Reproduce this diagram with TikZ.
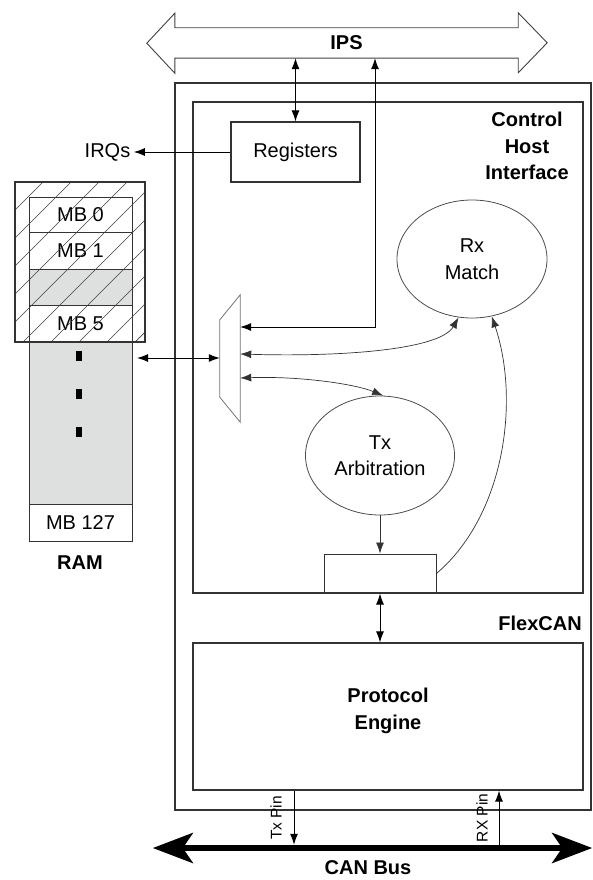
\documentclass[tikz,border=0pt]{standalone}
\usepackage{fontspec}
\setmainfont{Liberation Sans}
\usepackage{xcolor}
\usetikzlibrary{shapes.geometric,arrows.meta,calc}

\definecolor{ramgray}{RGB}{222,224,224}

\begin{document}
\begin{tikzpicture}[
  x=1pt, y=-1pt,
  font=\fontsize{20}{26.5}\selectfont,
  box/.style={draw=black!80, line width=1.1pt, inner sep=0pt},
  oval/.style={ellipse, draw=black!70, line width=0.8pt, inner sep=0pt, align=center},
  cell/.style={box, line width=0.9pt, minimum width=103pt},
  dotmark/.style={fill=black, inner sep=0pt, minimum width=6pt, minimum height=10pt},
  arr/.style={-{Latex[length=11pt,width=8pt]}, line width=1pt},
  dbl/.style={{Latex[length=11pt,width=8pt]}-{Latex[length=11pt,width=8pt]}, line width=1pt},
  curve/.style={line width=0.7pt, draw=black!80},
  title/.style={font=\fontsize{20}{26.5}\selectfont\bfseries, align=center, inner sep=0pt},
  pinlab/.style={font=\fontsize{15.5}{18}\selectfont, rotate=90, inner sep=0pt},
  hatch/.style={line width=0.7pt, draw=black!75}
]
\useasboundingbox (0,0) rectangle (593,880);

% IPS bus
\node[title, minimum width=343pt, minimum height=30pt] (ips) at (346.5,43) {IPS};
\draw[draw=black!75, line width=0.9pt] (ips.north west) -- (ips.north east) -- ++(0,-15) -- ++(29,30)
  -- ++(-29,30) -- (ips.south east) -- (ips.south west) -- ++(0,15) -- ++(-28,-30) -- ++(28,-30) -- cycle;

% FlexCAN blocks
\node[box, minimum width=416pt, minimum height=727pt] (flexcan) at (383,446.5) {};
\node[box, minimum width=390pt, minimum height=491pt] (chi) at (388,347.5) {};
\node[box, minimum width=390pt, minimum height=147pt] (pe) at (388,716.5) {};
\node[box, minimum width=129pt, minimum height=60pt] (regs) at (295.5,152) {Registers};
\node[oval, minimum width=150pt, minimum height=118pt] (rxm) at (472,259) {Rx\\Match};
\node[oval, minimum width=149pt, minimum height=119pt] (txa) at (380,455.5) {Tx\\Arbitration};
\node[box, line width=1pt, minimum width=112pt, minimum height=39pt] (buf) at (380,573.5) {};
\node[title] (chilbl) at (527,146) {Control\\Host\\Interface};
\node[title, anchor=east] (flexlbl) at (582,623) {FlexCAN};
\node[title] (pelbl) at (388,711) {Protocol\\Engine};
\node (irq) at (107.5,152) {IRQs};

% mux
\node[inner sep=0pt, minimum width=20pt, minimum height=127pt] (mux) at (230,358.5) {};
\draw[draw=black!55, line width=0.8pt] (mux.north east) -- (mux.south east)
  -- ($(mux.south west)+(0,-25)$) -- ($(mux.north west)+(0,25)$) -- cycle;

% RAM
\node[cell, minimum height=35pt] (mb0) at (80.5,214.5) {MB 0};
\node[cell, minimum height=37pt] (mb1) at (80.5,250.5) {MB 1};
\node[cell, minimum height=36pt, fill=ramgray] (mbx) at (80.5,287) {};
\node[cell, minimum height=37pt] (mb5) at (80.5,323.5) {MB 5};
\node[cell, minimum height=162pt, fill=ramgray] (mbfree) at (80.5,423) {};
\node[cell, minimum height=37pt] (mb127) at (80.5,522.5) {MB 127};
\foreach \y [count=\i] in {356,394,432}
  \node[dotmark] (dot\i) at (79,\y) {};
\begin{scope}
  \clip (15,182) rectangle (145,342);
  \foreach \k in {-1,...,9}
    \draw[hatch] (-117+28*\k,342) -- ++(160,-160);
\end{scope}
\node[box, minimum width=130pt, minimum height=160pt] (hatched) at (80,262) {};
\node[title] (ramlbl) at (80,563) {RAM};

% connectors
\draw[dbl] (regs.north) -- (regs.north |- ips.south);
\coordinate (corner) at (375,327);
\draw[dbl, line width=0.8pt] (corner -| mux.east) -- (corner) -- (corner |- ips.south);
\draw[arr] (regs.west) -- (irq.east);
\coordinate (ramport) at (137,358);
\draw[dbl] (ramport) -- (ramport -| mux.west);
\draw[dbl, curve] ($(mux.east)+(0,-4.5)$) .. controls (340,357) and (440,350) .. (rxm.257);
\draw[dbl, curve] ($(mux.east)+(0,19.5)$) .. controls (300,376) and (355,384) .. (txa.87);
\draw[arr, curve] (txa.south) -- (buf.north);
\draw[arr, curve] (buf.east) .. controls (505,515) and (520,400) .. (rxm.289);
\draw[dbl] (buf.south) -- (buf.south |- pe.north);

% CAN bus
\node[inner sep=0pt, minimum width=439pt, minimum height=6pt] (bus) at (372.5,848) {};
\draw[line width=6pt, {Stealth[length=40pt,width=30pt,inset=10pt]}-{Stealth[length=40pt,width=30pt,inset=10pt]}]
  (bus.west) -- (bus.east);
\node[title] (buslbl) at (368,868) {CAN Bus};
\coordinate (txpin) at (294,818);
\coordinate (rxpin) at (499,818);
\draw[arr] (txpin |- pe.south) -- (txpin |- bus.north);
\draw[arr] (rxpin |- bus.north) -- (rxpin |- pe.south);
\node[pinlab] (txlbl) at ($(txpin)+(-18,0)$) {Tx Pin};
\node[pinlab] (rxlbl) at ($(rxpin)+(-17,0)$) {RX Pin};
\end{tikzpicture}
\end{document}
